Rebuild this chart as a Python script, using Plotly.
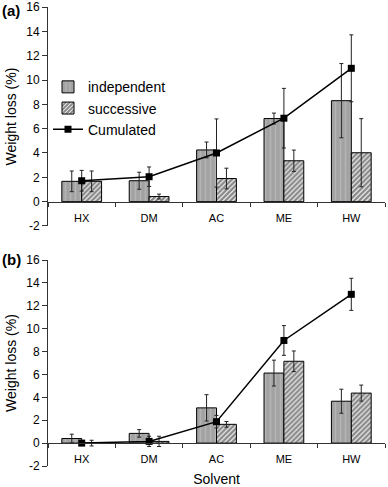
import plotly.graph_objects as go
from plotly.subplots import make_subplots

solvents = ["HX", "DM", "AC", "ME", "HW"]

# Panel (a)
a_independent = [1.67, 1.72, 4.25, 6.83, 8.3]
a_independent_err = [0.85, 0.7, 0.65, 0.45, 3.05]
a_successive = [1.67, 0.42, 1.9, 3.36, 4.02]
a_successive_err = [0.85, 0.2, 0.85, 0.88, 2.8]
a_cumulated = [1.72, 2.05, 4.0, 6.86, 10.96]
a_cumulated_err = [0.85, 0.8, 2.8, 2.45, 2.75]

# Panel (b)
b_independent = [0.4, 0.85, 3.08, 6.12, 3.66]
b_independent_err = [0.38, 0.33, 1.15, 1.13, 1.05]
b_successive = [0.0, 0.15, 1.64, 7.15, 4.37]
b_successive_err = [0.25, 0.45, 0.25, 0.9, 0.7]
b_cumulated = [0.0, 0.15, 1.87, 8.97, 13.0]
b_cumulated_err = [0.1, 0.45, 0.55, 1.3, 1.4]

yticks = [-2, 0, 2, 4, 6, 8, 10, 12, 14, 16]
yticklabels = ["-2", "0", "2", "4", "6", "8", "10", "12", "14", "16"]

FONT = "Arial, Liberation Sans, sans-serif"

fig = make_subplots(rows=2, cols=1, vertical_spacing=0.05)

ind_marker = dict(
    color="#a4a4a4",
    line=dict(color="black", width=1),
    pattern=dict(shape="|", fgcolor="#c6c6c6", bgcolor="#a2a2a2", size=5, solidity=0.3),
)
suc_marker = dict(
    color="white",
    line=dict(color="black", width=1),
    pattern=dict(shape="/", fgcolor="#111111", bgcolor="white", size=3.5, solidity=0.7),
)
err_style = dict(type="data", color="#222222", thickness=1, width=2)

panels = [
    (1, a_independent, a_independent_err, a_successive, a_successive_err, a_cumulated, a_cumulated_err, True),
    (2, b_independent, b_independent_err, b_successive, b_successive_err, b_cumulated, b_cumulated_err, False),
]
for row, ind, inde, suc, suce, cum, cume, show in panels:
    fig.add_trace(go.Bar(x=solvents, y=ind, name="independent", marker=ind_marker,
                         error_y=dict(array=inde, **err_style), showlegend=show), row=row, col=1)
    fig.add_trace(go.Bar(x=solvents, y=suc, name="successive", marker=suc_marker,
                         error_y=dict(array=suce, **err_style), showlegend=show), row=row, col=1)
    fig.add_trace(go.Scatter(x=solvents, y=cum, name="Cumulated", mode="lines+markers",
                             line=dict(color="black", width=1.5),
                             marker=dict(symbol="square", size=7, color="black"),
                             error_y=dict(array=cume, **err_style), showlegend=show), row=row, col=1)

a_dom = [0.5229, 1.0]
b_dom = [0.0, 0.4488]

axis_color = "#333333"
common_x = dict(type="category", range=[-0.5, 4.5], showline=True, linecolor=axis_color, linewidth=1,
                ticks="outside", ticklen=4, tickcolor=axis_color, tickson="boundaries",
                showgrid=False, zeroline=False, anchor="free", automargin=False,
                tickfont=dict(family=FONT, size=11, color="black"), ticklabelstandoff=6)
common_y = dict(range=[-2, 16], tickvals=yticks, ticktext=yticklabels, showline=True,
                linecolor=axis_color, linewidth=1,
                ticks="outside", ticklen=5, tickcolor=axis_color, showgrid=False, zeroline=False,
                automargin=False,
                tickfont=dict(family=FONT, size=12, color="black"),
                title=dict(text="Weight loss (%)", font=dict(family=FONT, size=14, color="black"), standoff=6))

fig.update_layout(
    xaxis=dict(**common_x, position=a_dom[0] + (2 / 18) * (a_dom[1] - a_dom[0])),
    xaxis2=dict(**common_x, position=b_dom[0] + (2 / 18) * (b_dom[1] - b_dom[0]),
                title=dict(text="Solvent", font=dict(family=FONT, size=14, color="black"), standoff=9)),
    yaxis=dict(**common_y, domain=a_dom),
    yaxis2=dict(**common_y, domain=b_dom),
)

fig.update_layout(
    width=388, height=487,
    margin=dict(l=48, r=3, t=7, b=21),
    paper_bgcolor="white", plot_bgcolor="white",
    barmode="group", bargap=0.41, bargroupgap=0,
    font=dict(family=FONT, color="black"),
    legend=dict(x=0.0, y=0.86, xanchor="left", yanchor="top", bgcolor="rgba(0,0,0,0)",
                font=dict(family=FONT, size=14, color="black"), tracegroupgap=0, itemwidth=30),
    annotations=[
        dict(text="<b>(a)</b>", x=-0.142, y=0.993, xref="paper", yref="paper", xanchor="left",
             yanchor="middle", showarrow=False, font=dict(family=FONT, size=15, color="black")),
        dict(text="<b>(b)</b>", x=-0.142, y=0.449, xref="paper", yref="paper", xanchor="left",
             yanchor="middle", showarrow=False, font=dict(family=FONT, size=15, color="black")),
    ],
)

fig.write_html("out.html", config={"displayModeBar": False},
               post_script="document.body.style.margin='0';")
